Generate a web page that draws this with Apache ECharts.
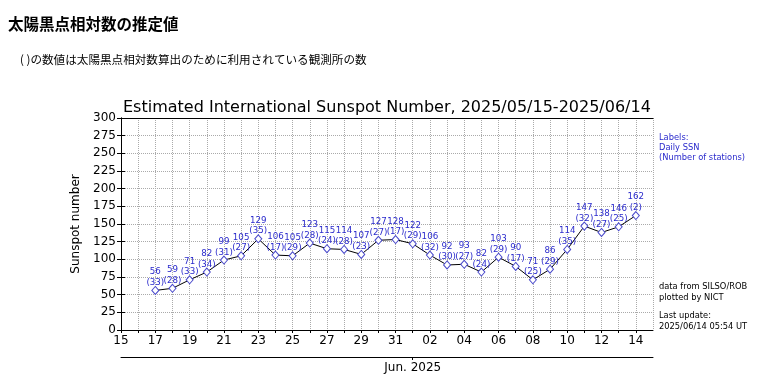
<!DOCTYPE html>
<html><head><meta charset="utf-8">
<script src="https://cdn.jsdelivr.net/npm/echarts@6/dist/echarts.min.js"></script>
<style>html,body{margin:0;padding:0;background:#fff}#c{width:760px;height:392px}</style>
</head><body><div id="c"></div>
<script>
const dates = ['2025-05-17','2025-05-18','2025-05-19','2025-05-20','2025-05-21','2025-05-22','2025-05-23','2025-05-24','2025-05-25','2025-05-26','2025-05-27','2025-05-28','2025-05-29','2025-05-30','2025-05-31','2025-06-01','2025-06-02','2025-06-03','2025-06-04','2025-06-05','2025-06-06','2025-06-07','2025-06-08','2025-06-09','2025-06-10','2025-06-11','2025-06-12','2025-06-13','2025-06-14'];
const ssn = [56,59,71,82,99,105,129,106,105,123,115,114,107,127,128,122,106,92,93,82,103,90,71,86,114,147,138,146,162];
const stations = [33,28,33,34,31,27,35,17,29,28,24,28,23,27,17,29,32,30,27,24,29,17,25,29,35,32,27,25,2];
const startDate = '2025-05-15';
const endDate = '2025-06-15';
const monthStart = '2025-06-01';
const monthLabel = 'Jun. 2025';
const yTicks = {min:0, max:300, step:25};

const DAY = 86400000;
const t0 = Date.parse(startDate + 'T00:00:00Z');
const off = d => (Date.parse(d + 'T00:00:00Z') - t0) / DAY;
const xMax = off(endDate);
const monthPos = off(monthStart);
const pts = dates.map((d,i) => [off(d), ssn[i], stations[i]]);

const chart = echarts.init(document.getElementById('c'), null, {renderer:'canvas'});
const font = 'DejaVu Sans';
const blue = '#2a2acc';
chart.setOption({
  animation:false,
  textStyle:{fontFamily:font},
  title:[
    {text:'太陽黒点相対数の推定値', left:8, top:16, padding:0, textStyle:{fontFamily:'Noto Sans CJK JP', fontSize:15.5, fontWeight:'bold', color:'#000'}},
    {text:'( )の数値は太陽黒点相対数算出のために利用されている観測所の数', left:20, top:54, padding:0, textStyle:{fontFamily:'Noto Sans CJK JP', fontSize:11.6, fontWeight:'normal', color:'#000'}},
    {text:'Estimated International Sunspot Number, 2025/05/15-2025/06/14', left:123, top:100, padding:0, textStyle:{fontFamily:font, fontSize:16, fontWeight:'normal', color:'#000'}},
    {text:'Labels:\nDaily SSN\n(Number of stations)', left:659, top:133, padding:0, textStyle:{fontFamily:font, fontSize:8.3, lineHeight:10, fontWeight:'normal', color:blue}},
    {text:'data from SILSO/ROB\nplotted by NICT', left:659, top:282, padding:0, textStyle:{fontFamily:font, fontSize:8.3, lineHeight:10.5, fontWeight:'normal', color:'#000'}},
    {text:'Last update:\n2025/06/14 05:54 UT', left:659, top:311, padding:0, textStyle:{fontFamily:font, fontSize:8.3, lineHeight:10.5, fontWeight:'normal', color:'#000'}}
  ],
  grid:{left:121, right:107, top:118, bottom:62},
  xAxis:[
    {type:'value', min:0, max:xMax, interval:1, position:'bottom',
     axisLine:{lineStyle:{color:'#000', width:1}},
     axisTick:{show:true, length:3, lineStyle:{color:'#000'}},
     axisLabel:{fontSize:12, color:'#000', margin:5, showMaxLabel:false,
       formatter:v => { if (v % 2 !== 0) return ''; const d = new Date(t0 + v*DAY); return String(d.getUTCDate()).padStart(2,'0'); }},
     splitLine:{show:true, lineStyle:{color:'#aaa', type:'dotted', width:1}}},
    {type:'value', min:0, max:xMax, interval:1, position:'top',
     axisLine:{onZero:false, lineStyle:{color:'#000', width:1}}, axisTick:{show:false}, axisLabel:{show:false}, splitLine:{show:false}},
    {type:'value', min:0, max:xMax, position:'bottom', offset:27,
     axisLine:{show:true, onZero:false, lineStyle:{color:'#000', width:1}},
     axisTick:{show:true, customValues:[monthPos], length:3, lineStyle:{color:'#000'}},
     axisLabel:{fontSize:12, color:'#000', margin:5, customValues:[monthPos], formatter:() => monthLabel},
     splitLine:{show:false}}
  ],
  yAxis:[
    {type:'value', min:yTicks.min, max:yTicks.max, interval:yTicks.step, position:'left',
     name:'Sunspot number', nameLocation:'middle', nameGap:31, nameRotate:90,
     nameTextStyle:{fontSize:12, color:'#000', fontFamily:font},
     axisLine:{show:true, lineStyle:{color:'#000', width:1}},
     axisTick:{show:true, length:4, lineStyle:{color:'#000'}},
     axisLabel:{fontSize:12, color:'#000', margin:5},
     splitLine:{show:true, lineStyle:{color:'#aaa', type:'dotted', width:1}}},
    {type:'value', min:yTicks.min, max:yTicks.max, interval:yTicks.step, position:'right',
     axisLine:{show:true, lineStyle:{color:'#000', width:1}},
     axisTick:{show:true, length:4, lineStyle:{color:'#000'}},
     axisLabel:{show:false}, splitLine:{show:false}}
  ],
  series:[{
    type:'line', xAxisIndex:0, yAxisIndex:0, data:pts,
    lineStyle:{color:'#000', width:1},
    symbol:'diamond', symbolSize:[7,8],
    itemStyle:{color:'#fff', borderColor:'#4a4acc', borderWidth:1},
    label:{show:true, position:'top', distance:-2, color:blue, fontSize:8.7, lineHeight:10.5, fontFamily:font,
      formatter:p => p.value[1] + '\n(' + p.value[2] + ')'}
  }]
});
</script></body></html>
